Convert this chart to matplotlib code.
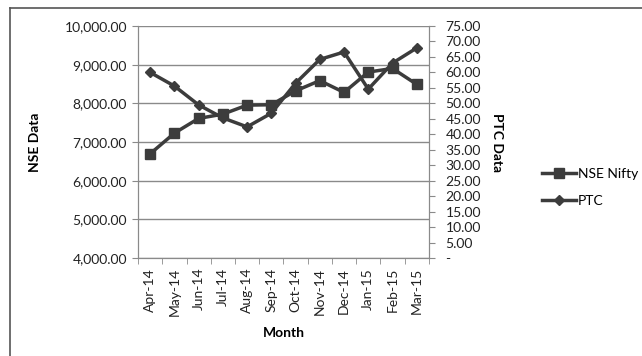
import numpy as np
import matplotlib.pyplot as plt
from matplotlib.ticker import FuncFormatter, FixedLocator

plt.rcParams['font.family'] = ['Lato', 'DejaVu Sans']

months = ['Apr-14', 'May-14', 'Jun-14', 'Jul-14', 'Aug-14', 'Sep-14',
          'Oct-14', 'Nov-14', 'Dec-14', 'Jan-15', 'Feb-15', 'Mar-15']
nse = [6696, 7230, 7611, 7721, 7954, 7964, 8322, 8588, 8283, 8809, 8902, 8491]
ptc = [60.0, 55.6, 49.5, 45.3, 42.4, 46.8, 56.5, 64.2, 66.6, 54.6, 63.0, 67.9]

col = '#3c3c3c'
x = np.arange(len(months))

fig = plt.figure(figsize=(6.42, 3.56), dpi=100)
ax = fig.add_axes([0.215, 0.275, 0.453, 0.652])
ax2 = ax.twinx()

l1, = ax.plot(x, nse, color=col, lw=2.5, marker='s', ms=7, label='NSE Nifty', zorder=3)
l2, = ax2.plot(x, ptc, color=col, lw=2.5, marker='D', ms=5, label='PTC', zorder=3)

ax.set_ylim(4000, 10000)
ax.set_yticks(np.arange(4000, 10001, 1000))
ax.yaxis.set_major_formatter(FuncFormatter(lambda v, p: f'{v:,.2f}'))
ax.grid(axis='y', color='#8a8a8a', lw=1)
ax.set_axisbelow(True)

ax.set_xlim(-0.5, len(months) - 0.5)
ax.set_xticks(x)
ax.set_xticklabels(months, rotation=90)
ax.xaxis.set_minor_locator(FixedLocator(np.arange(-0.5, len(months), 1)))
ax.tick_params(axis='x', which='major', length=0, pad=7)
ax.tick_params(axis='x', which='minor', length=4, color='#8a8a8a')
ax.tick_params(axis='y', length=4, color='#8a8a8a', pad=4)

ax2.set_ylim(0, 75)
ax2.set_yticks(np.arange(0, 76, 5))
ax2.yaxis.set_major_formatter(FuncFormatter(lambda v, p: '-' if v == 0 else f'{v:.2f}'))
ax2.tick_params(axis='y', length=4, color='#8a8a8a', pad=8)

for a in (ax, ax2):
    a.spines['top'].set_visible(False)
    for s in ('left', 'right', 'bottom'):
        a.spines[s].set_color('#8a8a8a')
    a.tick_params(labelsize=10, labelcolor='#222222')

ax.set_ylabel('NSE Data', fontsize=10, fontweight='bold')
ax.yaxis.set_label_coords(-0.335, 0.5)
ax2.set_ylabel('PTC Data', fontsize=10, fontweight='bold', rotation=270, va='center')
ax2.yaxis.set_label_coords(1.234, 0.5)
ax.set_xlabel('Month', fontsize=10, fontweight='bold', labelpad=8)

fig.legend(handles=[l1, l2], loc='upper left', bbox_to_anchor=(0.835, 0.545),
           frameon=False, fontsize=10, handlelength=2.5, handletextpad=0.1,
           labelspacing=1.1, borderaxespad=0)

# chart frame (left and top edges)
fig.add_artist(plt.Line2D([0.016, 0.016], [0.0, 0.978], color='#555555', lw=1.2))
fig.add_artist(plt.Line2D([0.016, 1.0], [0.978, 0.978], color='#555555', lw=1.2))

fig.savefig('out.png', dpi=100)
